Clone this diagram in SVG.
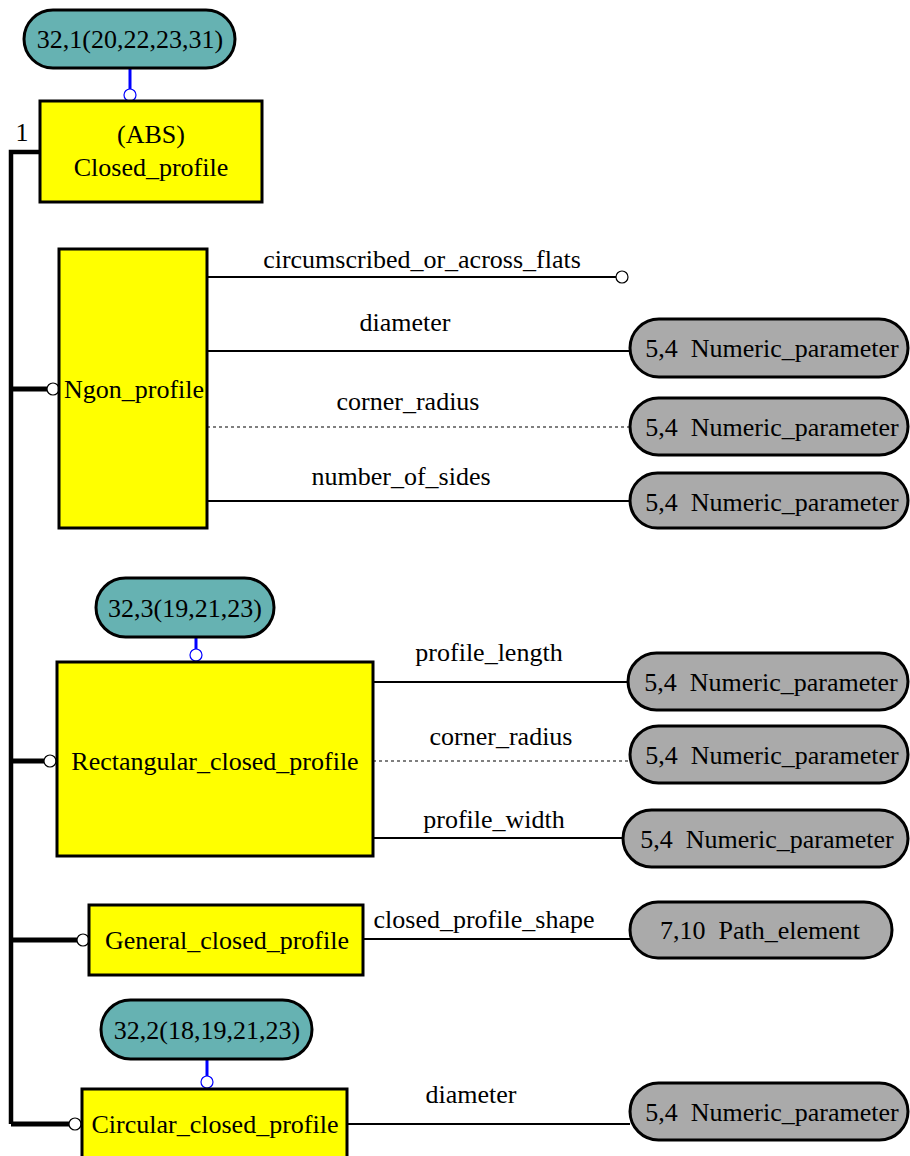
<svg xmlns="http://www.w3.org/2000/svg" width="910" height="1156" viewBox="0 0 910 1156">
  <style>
    text { font-family: "Liberation Serif", "Times New Roman", serif; font-size: 26px; fill: #000; }
    .mid { text-anchor: middle; }
    .pre { white-space: pre; }
    .entity { fill: #ffff00; stroke: #000; stroke-width: 3; }
    .ref { fill: #66b2b2; stroke: #000; stroke-width: 3; }
    .type { fill: #aaaaaa; stroke: #000; stroke-width: 3; }
    .attr { stroke: #000; stroke-width: 2; fill: none; }
    .opt { stroke: #000; stroke-width: 1.2; stroke-dasharray: 3 3; fill: none; }
    .bus { stroke: #000; stroke-width: 4.5; fill: none; }
    .sub { stroke: #000; stroke-width: 5; fill: none; }
    .knob { fill: #fff; stroke: #000; stroke-width: 1.2; }
    .link { stroke: #0000ff; stroke-width: 3; fill: none; }
    .linkend { fill: #fff; stroke: #0000ff; stroke-width: 1.2; }
  </style>

  <!-- connectors -->
  <g id="connectors">
    <!-- supertype bus -->
    <polyline class="bus" points="40,152 11,152 11,1124"/>
    <text x="22" y="141" class="mid">1</text>
    <line class="sub" x1="11" y1="389" x2="47" y2="389"/>
    <circle class="knob" cx="53" cy="389" r="6"/>
    <line class="sub" x1="11" y1="761" x2="44" y2="761"/>
    <circle class="knob" cx="50" cy="761" r="6"/>
    <line class="sub" x1="11" y1="940" x2="77" y2="940"/>
    <circle class="knob" cx="83" cy="940" r="6"/>
    <line class="sub" x1="11" y1="1124" x2="69" y2="1124"/>
    <circle class="knob" cx="75" cy="1124" r="6"/>

    <!-- page references -->
    <line class="link" x1="130" y1="68" x2="130" y2="89"/>
    <circle class="linkend" cx="130" cy="95" r="6"/>
    <line class="link" x1="196" y1="637" x2="196" y2="649"/>
    <circle class="linkend" cx="196" cy="655" r="6"/>
    <line class="link" x1="207" y1="1059" x2="207" y2="1076"/>
    <circle class="linkend" cx="207" cy="1082" r="6"/>

    <!-- Ngon_profile attributes -->
    <line class="attr" x1="207" y1="277" x2="616" y2="277"/>
    <circle class="knob" cx="622" cy="277" r="6"/>
    <text x="422" y="268" class="mid">circumscribed_or_across_flats</text>
    <line class="attr" x1="207" y1="351" x2="630" y2="351"/>
    <text x="405" y="331" class="mid">diameter</text>
    <line class="opt" x1="207" y1="427" x2="630" y2="427"/>
    <text x="408" y="410" class="mid">corner_radius</text>
    <line class="attr" x1="207" y1="501" x2="630" y2="501"/>
    <text x="401" y="485" class="mid">number_of_sides</text>

    <!-- Rectangular_closed_profile attributes -->
    <line class="attr" x1="373" y1="682" x2="628" y2="682"/>
    <text x="489" y="661" class="mid">profile_length</text>
    <line class="opt" x1="373" y1="761" x2="630" y2="761"/>
    <text x="501" y="745" class="mid">corner_radius</text>
    <line class="attr" x1="373" y1="838" x2="623" y2="838"/>
    <text x="494" y="828" class="mid">profile_width</text>

    <!-- General_closed_profile attribute -->
    <line class="attr" x1="363" y1="939" x2="630" y2="939"/>
    <text x="484" y="928" class="mid">closed_profile_shape</text>

    <!-- Circular_closed_profile attribute -->
    <line class="attr" x1="347" y1="1124" x2="630" y2="1124"/>
    <text x="471" y="1103" class="mid">diameter</text>
  </g>

  <!-- page reference nodes -->
  <g id="ref-32-1">
    <rect class="ref" x="24" y="10" width="211" height="58" rx="29"/>
    <text x="130" y="48" class="mid">32,1(20,22,23,31)</text>
  </g>
  <g id="ref-32-3">
    <rect class="ref" x="96" y="578" width="178" height="59" rx="29.5"/>
    <text x="185" y="617" class="mid">32,3(19,21,23)</text>
  </g>
  <g id="ref-32-2">
    <rect class="ref" x="101" y="1000" width="211" height="59" rx="29.5"/>
    <text x="207" y="1039" class="mid">32,2(18,19,21,23)</text>
  </g>

  <!-- entities -->
  <g id="closed-profile">
    <rect class="entity" x="40" y="101" width="222" height="101"/>
    <text x="151" y="143" class="mid">(ABS)</text>
    <text x="151" y="176" class="mid">Closed_profile</text>
  </g>
  <g id="ngon-profile">
    <rect class="entity" x="59" y="249" width="148" height="279"/>
    <text x="134" y="398" class="mid">Ngon_profile</text>
  </g>
  <g id="rectangular-closed-profile">
    <rect class="entity" x="57" y="662" width="316" height="194"/>
    <text x="215" y="770" class="mid">Rectangular_closed_profile</text>
  </g>
  <g id="general-closed-profile">
    <rect class="entity" x="89" y="905" width="274" height="70"/>
    <text x="227" y="949" class="mid">General_closed_profile</text>
  </g>
  <g id="circular-closed-profile">
    <rect class="entity" x="82" y="1089" width="265" height="80"/>
    <text x="215" y="1133" class="mid">Circular_closed_profile</text>
  </g>

  <!-- attribute type nodes -->
  <g id="ngon-diameter-type">
    <rect class="type" x="630" y="319" width="278" height="58" rx="29"/>
    <text x="772" y="357" class="mid pre">5,4  Numeric_parameter</text>
  </g>
  <g id="ngon-corner-radius-type">
    <rect class="type" x="630" y="398" width="278" height="57" rx="28.5"/>
    <text x="772" y="436" class="mid pre">5,4  Numeric_parameter</text>
  </g>
  <g id="ngon-sides-type">
    <rect class="type" x="630" y="473" width="278" height="55" rx="27.5"/>
    <text x="772" y="511" class="mid pre">5,4  Numeric_parameter</text>
  </g>
  <g id="rect-length-type">
    <rect class="type" x="628" y="653" width="280" height="57" rx="28.5"/>
    <text x="771" y="691" class="mid pre">5,4  Numeric_parameter</text>
  </g>
  <g id="rect-corner-radius-type">
    <rect class="type" x="630" y="726" width="278" height="57" rx="28.5"/>
    <text x="772" y="764" class="mid pre">5,4  Numeric_parameter</text>
  </g>
  <g id="rect-width-type">
    <rect class="type" x="623" y="810" width="285" height="57" rx="28.5"/>
    <text x="767" y="848" class="mid pre">5,4  Numeric_parameter</text>
  </g>
  <g id="path-element-type">
    <rect class="type" x="630" y="902" width="262" height="56" rx="28"/>
    <text x="760" y="939" class="mid pre">7,10  Path_element</text>
  </g>
  <g id="circular-diameter-type">
    <rect class="type" x="630" y="1083" width="278" height="57" rx="28.5"/>
    <text x="772" y="1121" class="mid pre">5,4  Numeric_parameter</text>
  </g>
</svg>
